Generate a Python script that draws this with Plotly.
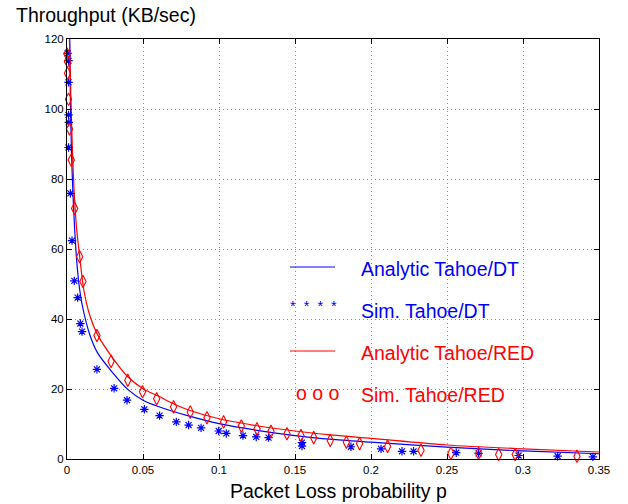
import plotly.graph_objects as go

# Packet loss probability axis ticks
x_ticks = [0, 0.05, 0.1, 0.15, 0.2, 0.25, 0.3, 0.35]
x_tick_text = ["0", "0.05", "0.1", "0.15", "0.2", "0.25", "0.3", "0.35"]
y_ticks = [0, 20, 40, 60, 80, 100, 120]

# Analytic model, Tahoe over drop-tail queue
dt_model_p = [0.0018, 0.0022, 0.003, 0.004, 0.005, 0.0065, 0.0083, 0.01, 0.015,
              0.02, 0.03, 0.04, 0.05, 0.06, 0.08, 0.1, 0.125, 0.15, 0.175,
              0.2, 0.25, 0.3, 0.35]
dt_model_tput = [120, 104, 87, 75, 66, 56, 48.5, 44, 35.5,
                 30.4, 24.7, 19.9, 16.8, 15.0, 12.3, 10.1, 8.2, 6.7, 5.6,
                 4.8, 3.4, 2.3, 1.5]

# Analytic model, Tahoe over RED queue
red_model_p = [0.0016, 0.0025, 0.0035, 0.005, 0.0065, 0.0083, 0.011, 0.015,
               0.02, 0.03, 0.04, 0.05, 0.06, 0.07, 0.08, 0.1, 0.125, 0.15,
               0.175, 0.2, 0.25, 0.3, 0.35]
red_model_tput = [120, 104, 89, 74, 65, 58, 48.5, 41,
                  35.6, 28.9, 23.5, 20.1, 18.0, 15.8, 14.0, 11.5, 9.5, 8.0,
                  6.8, 5.9, 4.0, 2.9, 2.0]

# Simulation results, Tahoe over drop-tail queue
dt_sim_p = [0.0004, 0.0010, 0.0010, 0.0010, 0.0012, 0.0010, 0.0022, 0.0033,
            0.0048, 0.0070, 0.0088, 0.0099, 0.0197, 0.0310, 0.0395, 0.0509,
            0.0609, 0.0719, 0.0800, 0.0882, 0.0998, 0.1048, 0.1158, 0.1245,
            0.1326, 0.1546, 0.1546, 0.1868, 0.2066, 0.2204, 0.2280, 0.2561,
            0.2708, 0.2971, 0.3228, 0.3460]
dt_sim_tput = [115.9, 113.8, 107.6, 98.3, 96.2, 89.0, 75.9, 62.4,
               50.9, 46.1, 38.7, 36.4, 25.6, 20.2, 16.8, 14.2,
               12.4, 10.6, 9.7, 8.9, 8.0, 7.3, 6.7, 6.3,
               6.1, 4.7, 3.7, 3.5, 2.9, 2.2, 2.2, 1.8,
               1.6, 1.0, 0.8, 0.6]

# Simulation results, Tahoe over RED queue
red_sim_p = [0.0000, 0.0003, 0.0003, 0.0010, 0.0017, 0.0028, 0.0050, 0.0083,
             0.0105, 0.0197, 0.0290, 0.0400, 0.0497, 0.0590, 0.0701, 0.0811,
             0.0921, 0.1030, 0.1147, 0.1250, 0.1342, 0.1447, 0.1539, 0.1623,
             0.1732, 0.1838, 0.1925, 0.2109, 0.2329, 0.2526, 0.2708, 0.2840,
             0.2949, 0.3355]
red_sim_tput = [115.7, 113.6, 110.2, 102.8, 94.3, 85.4, 71.6, 57.8,
                50.7, 35.3, 27.9, 22.5, 19.2, 17.2, 14.9, 13.4,
                11.8, 10.6, 9.4, 8.6, 7.9, 7.2, 6.7, 6.1,
                5.3, 4.8, 4.4, 3.6, 2.5, 1.6, 1.6, 1.3,
                1.3, 0.8]

legend_labels = ["Analytic Tahoe/DT", "Sim. Tahoe/DT",
                 "Analytic Tahoe/RED", "Sim. Tahoe/RED"]
legend_samples = ["*  *  *  *", "o o o"]

BLUE = "#0000ff"
RED = "#ff0000"
FONT = "Liberation Sans, Arial, Helvetica, sans-serif"

fig = go.Figure()

fig.add_trace(go.Scatter(x=dt_model_p, y=dt_model_tput, mode="lines",
                         line=dict(color=BLUE, width=1.2, shape="spline", smoothing=0.8)))
fig.add_trace(go.Scatter(x=red_model_p, y=red_model_tput, mode="lines",
                         line=dict(color=RED, width=1.2, shape="spline", smoothing=0.8)))
fig.add_trace(go.Scatter(x=dt_sim_p, y=dt_sim_tput, mode="markers", cliponaxis=False,
                         marker=dict(symbol="asterisk-open", size=7, color=BLUE,
                                     line=dict(color=BLUE, width=1.2))))
fig.add_trace(go.Scatter(x=red_sim_p, y=red_sim_tput, mode="markers", cliponaxis=False,
                         marker=dict(symbol="diamond-tall-open", size=9, color=RED,
                                     line=dict(color=RED, width=1.1))))

# Hand-drawn legend inside the axes
W, H = 532.0, 420.0


def px_x(px):
    return (px - 67) / W


def px_y(py):
    return (459 - py) / H


# (label, colour, sample, sample x-centre, sample y, sample font size, text y)
legend_rows = [
    (legend_labels[0], BLUE, "line", 312, 267, 0, 269),
    (legend_labels[1], BLUE, legend_samples[0], 313.5, 306, 14.5, 311),
    (legend_labels[2], RED, "line", 312, 351, 0, 353),
    (legend_labels[3], RED, legend_samples[1], 318, 393, 19.5, 395),
]
for label, color, sample, sx, sy, ssize, ty in legend_rows:
    if sample == "line":
        fig.add_shape(type="line", xref="paper", yref="paper",
                      x0=px_x(290), x1=px_x(335), y0=px_y(sy), y1=px_y(sy),
                      line=dict(color=color, width=1.2))
    else:
        fig.add_annotation(xref="paper", yref="paper", x=px_x(sx), y=px_y(sy),
                           text=sample, showarrow=False, xanchor="center", yanchor="middle",
                           font=dict(family=FONT, size=ssize, color=color))
    fig.add_annotation(xref="paper", yref="paper", x=px_x(359), y=px_y(ty),
                       text=label, showarrow=False, xanchor="left", yanchor="middle",
                       font=dict(family=FONT, size=19.5, color=color))

fig.add_annotation(xref="paper", yref="paper", x=px_x(14), y=px_y(15),
                   text="Throughput (KB/sec)", showarrow=False,
                   xanchor="left", yanchor="middle",
                   font=dict(family=FONT, size=19.5, color="black"))
fig.add_annotation(xref="paper", yref="paper", x=px_x(338), y=px_y(491),
                   text="Packet Loss probability p", showarrow=False,
                   xanchor="center", yanchor="middle",
                   font=dict(family=FONT, size=19.5, color="black"))

axis_common = dict(showline=True, linecolor="black", linewidth=1, mirror="ticks",
                   ticks="inside", ticklen=5, tickcolor="black", tickwidth=1,
                   showgrid=True, gridcolor="#8c8c8c", griddash="1px,3px", gridwidth=1,
                   zeroline=False, tickfont=dict(family=FONT, size=11.5, color="black"))

fig.update_xaxes(range=[0, 0.35], tickvals=x_ticks, ticktext=x_tick_text, **axis_common)
fig.update_yaxes(range=[0, 120], tickvals=y_ticks, **axis_common)

fig.update_layout(width=628, height=504, showlegend=False,
                  margin=dict(l=67, r=29, t=39, b=45),
                  plot_bgcolor="white", paper_bgcolor="white",
                  font=dict(family=FONT))

fig.write_html("out.html")
